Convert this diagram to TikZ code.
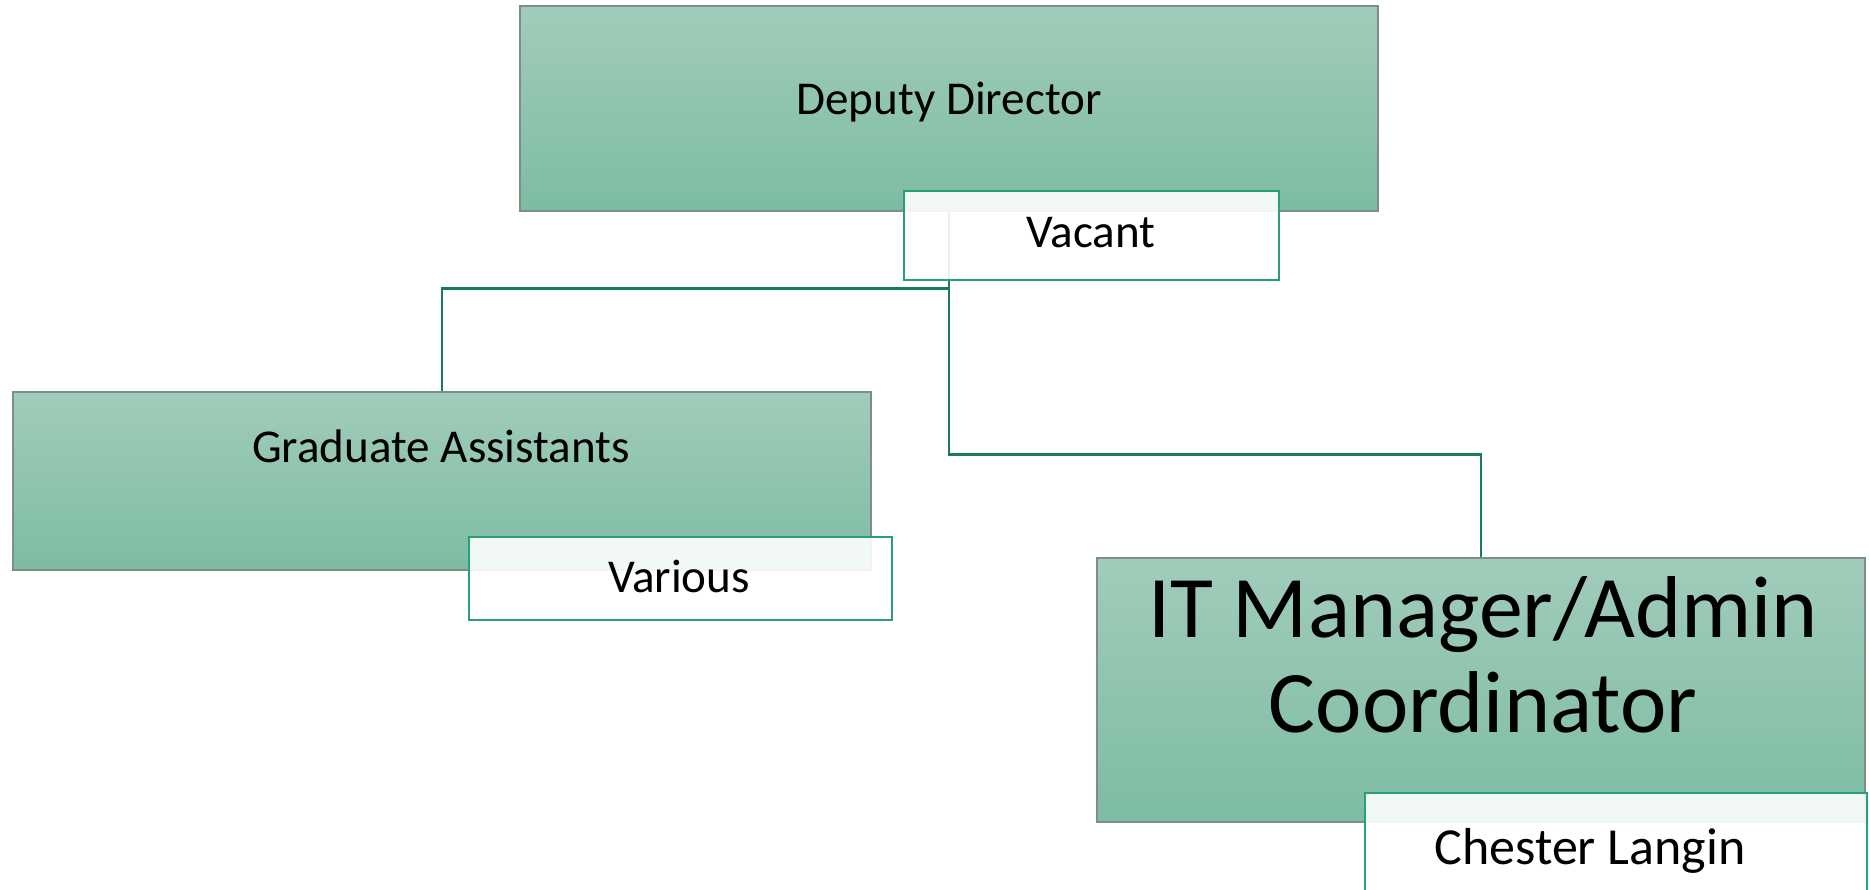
\documentclass[tikz,border=0pt]{standalone}
\usepackage{fontspec}
\setmainfont{Carlito}
\definecolor{boxtop}{RGB}{161,204,187}
\definecolor{boxbottom}{RGB}{125,188,162}
\definecolor{boxline}{RGB}{128,140,134}
\definecolor{nameline}{RGB}{38,160,120}
\definecolor{linkline}{RGB}{26,122,94}
\tikzset{
  post/.style={draw=boxline, line width=0.5pt, top color=boxtop, bottom color=boxbottom, inner sep=0pt},
  holder/.style={draw=nameline, line width=0.5pt, fill=white, fill opacity=0.9, draw opacity=1, inner sep=0pt},
  link/.style={draw=linkline, line width=0.85pt},
  txt/.style={anchor=base, inner sep=0pt, font=\fontsize{13.4}{16}\selectfont},
  bigtxt/.style={anchor=base, inner sep=0pt, font=\fontsize{25}{30}\selectfont}
}
\begin{document}
\begin{tikzpicture}
    \useasboundingbox (0,0) rectangle (18.69,8.90);
    % posts
    \node [post, minimum width=8.58cm, minimum height=2.05cm] (dd) at (9.49,7.815) {};
    \node [post, minimum width=8.58cm, minimum height=1.78cm] (ga) at (4.42,4.09) {};
    \node [post, minimum width=7.68cm, minimum height=2.64cm] (it) at (14.81,2.00) {};
    % reporting lines
    \draw [link] (dd.south) -- ++(0,-0.77) -| (ga.north);
    \draw [link] (dd.south) -- ++(0,-2.43) -| (it.north);
    % titles
    \node [txt] (ddtext) at (9.49,7.75) {Deputy Director};
    \node [txt] (gatext) at (4.41,4.27) {Graduate Assistants};
    \node [bigtxt] (ittext) at (14.83,2.52) {IT Manager/Admin};
    \node [bigtxt] (ittexttwo) at (14.83,1.57) {Coordinator};
    % names
    \node [holder, minimum width=3.75cm, minimum height=0.89cm] (vacant) at (10.915,6.545) {};
    \node [holder, minimum width=4.23cm, minimum height=0.83cm] (various) at (6.805,3.115) {};
    \node [holder, minimum width=5.02cm, minimum height=1.14cm] (chester) at (16.16,0.40) {};
    \node [txt] (vacanttext) at (10.91,6.42) {Vacant};
    \node [txt] (varioustext) at (6.79,2.97) {Various};
    \node [txt, font=\fontsize{14.8}{18}\selectfont] (chestertext) at (15.90,0.25) {Chester Langin};
\end{tikzpicture}
\end{document}
